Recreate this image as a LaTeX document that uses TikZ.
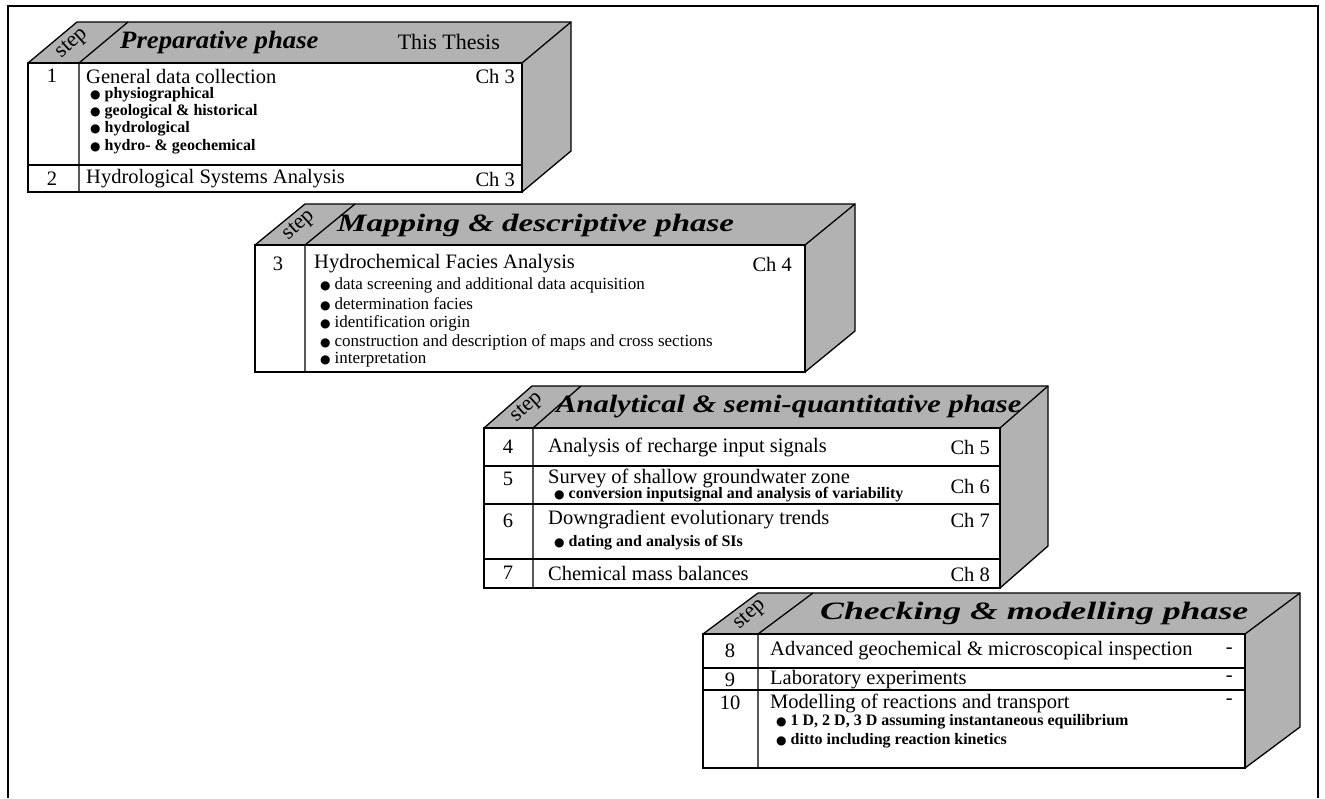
\documentclass[tikz,border=0pt]{standalone}
\usepackage{fontspec}
\setmainfont{Liberation Serif}
\newfontfamily\dejavu{DejaVu Sans}
\usepackage{graphicx}
\newcommand\bl{{\dejavu\fontsize{12}{12}\selectfont ●}\hspace{4pt}}
\newcommand\hx[2]{\scalebox{#1}[1]{#2}}
\newcommand\phbox[7]{%
  \fill[facegray] (#1,#2) -- ({#1+#6},{#2-#7}) -- ({#3+#6},{#2-#7}) -- (#3,#2) -- cycle;
  \fill[facegray] (#3,#2) -- ({#3+#6},{#2-#7}) -- ({#3+#6},{#4-#7}) -- (#3,#4) -- cycle;
  \draw[boxline] (#1,#2) -- ({#1+#6},{#2-#7}) -- ({#3+#6},{#2-#7}) -- ({#3+#6},{#4-#7}) -- (#3,#4);
  \draw[boxline] (#3,#2) -- ({#3+#6},{#2-#7});
  \draw[boxline,fill=white] (#1,#2) rectangle (#3,#4);
  \draw[boxline] (#5,#4) -- (#5,#2) -- ({#5+#6},{#2-#7});
}
\begin{document}
\begin{tikzpicture}[x=1pt,y=-1pt,
  facegray/.style={black!30},
  boxline/.style={line width=1.3pt,line join=miter},
  frame/.style={line width=1.8pt},
  ttl/.style={font=\fontsize{20.5}{22}\selectfont, anchor=west, inner sep=0pt},
  num/.style={font=\fontsize{20.5}{22}\selectfont, inner sep=0pt},
  chp/.style={font=\fontsize{20.5}{22}\selectfont, anchor=east, inner sep=0pt},
  bul/.style={font=\bfseries\fontsize{16}{18}\selectfont, anchor=west, inner sep=0pt},
  bulr/.style={font=\fontsize{17}{19}\selectfont, anchor=west, inner sep=0pt},
  hdr/.style={font=\bfseries\itshape\fontsize{25}{27}\selectfont, anchor=west, inner sep=0pt},
  hdru/.style={font=\fontsize{22}{24}\selectfont, anchor=east, inner sep=0pt},
  stp/.style={font=\fontsize{22}{23}\selectfont, rotate=42, inner sep=0pt}]
\useasboundingbox (0,0) rectangle (1325,798);
% outer frame
\draw[frame] (8,798) -- (8,6) -- (1318,6) -- (1318,798);

% ---------- Box 1
\phbox{28}{63}{522}{192}{79}{49}{41}
\draw[boxline] (28,165) -- (522,165);
\node[stp] (s1) at (72,44) {step};
\node[hdr] (h1) at (120,42) {\hx{1.07}{Preparative phase}};
\node[hdru] (t1) at (500,42) {This Thesis};
\node[num] (n1) at (52,76) {1};
\node[ttl] (r1) at (86,76) {General data collection};
\node[chp] (c1) at (515,76) {Ch 3};
\node[bul] (b11) at (90,95) {\bl physiographical};
\node[bul] (b12) at (90,112) {\bl geological \& historical};
\node[bul] (b13) at (90,129) {\bl hydrological};
\node[bul] (b14) at (90,147) {\bl hydro- \& geochemical};
\node[num] (n2) at (52,179) {2};
\node[ttl] (r2) at (86,179) {Hydrological Systems Analysis};
\node[chp] (c2) at (515,179) {Ch 3};

% ---------- Box 2
\phbox{255}{245}{805}{372}{305}{50}{41}
\node[stp] (s2) at (299,226) {step};
\node[hdr] (h2) at (337,225) {\hx{1.32}{Mapping \& descriptive phase}};
\node[num] (n3) at (278,264) {3};
\node[ttl] (r3) at (314,264) {Hydrochemical Facies Analysis};
\node[chp] (c3) at (792,264) {Ch 4};
\node[bulr] (b31) at (320,285) {\bl data screening and additional data acquisition};
\node[bulr] (b32) at (320,304) {\bl determination facies};
\node[bulr] (b33) at (320,323) {\bl identification origin};
\node[bulr] (b34) at (320,342) {\bl construction and description of maps and cross sections};
\node[bulr] (b35) at (320,360) {\bl interpretation};

% ---------- Box 3
\phbox{484}{428}{1000}{588}{533}{48}{42}
\draw[boxline] (484,466) -- (1000,466);
\draw[boxline] (484,504) -- (1000,504);
\draw[boxline] (484,559) -- (1000,559);
\node[stp] (s3) at (527,408) {step};
\node[hdr] (h3) at (556,407) {\hx{1.22}{Analytical \& semi-quantitative phase}};
\node[num] (n4) at (508,447) {4};
\node[ttl] (r4) at (548,447) {Analysis of recharge input signals};
\node[chp] (c4) at (990,447) {Ch 5};
\node[num] (n5) at (508,479) {5};
\node[ttl] (r5) at (548,478) {Survey of shallow groundwater zone};
\node[chp] (c5) at (990,486) {Ch 6};
\node[bul] (b51) at (554,495) {\bl conversion inputsignal and analysis of variability};
\node[num] (n6) at (508,521) {6};
\node[ttl] (r6) at (548,520) {Downgradient evolutionary trends};
\node[chp] (c6) at (990,520) {Ch 7};
\node[bul] (b61) at (554,543) {\bl dating and analysis of SIs};
\node[num] (n7) at (508,573) {7};
\node[ttl] (r7) at (548,573) {Chemical mass balances};
\node[chp] (c7) at (990,574) {Ch 8};

% ---------- Box 4
\phbox{703}{634}{1245}{768}{758}{55}{41}
\draw[boxline] (703,668) -- (1245,668);
\draw[boxline] (703,690) -- (1245,690);
\node[stp] (s4) at (750,615) {step};
\node[hdr] (h4) at (820,613) {\hx{1.43}{Checking \& modelling phase}};
\node[num] (n8) at (730,651) {8};
\node[ttl] (r8) at (770,651) {Advanced geochemical \& microscopical inspection};
\node[chp] (c8) at (1233,651) {-};
\node[num] (n9) at (730,680) {9};
\node[ttl] (r9) at (770,680) {Laboratory experiments};
\node[chp] (c9) at (1233,679) {-};
\node[num] (n10) at (730,703) {10};
\node[ttl] (r10) at (770,703) {Modelling of reactions and transport};
\node[chp] (c10) at (1233,702) {-};
\node[bul] (b101) at (776,722) {\bl 1 D, 2 D, 3 D assuming instantaneous equilibrium};
\node[bul] (b102) at (776,741) {\bl ditto including reaction kinetics};
\end{tikzpicture}
\end{document}
